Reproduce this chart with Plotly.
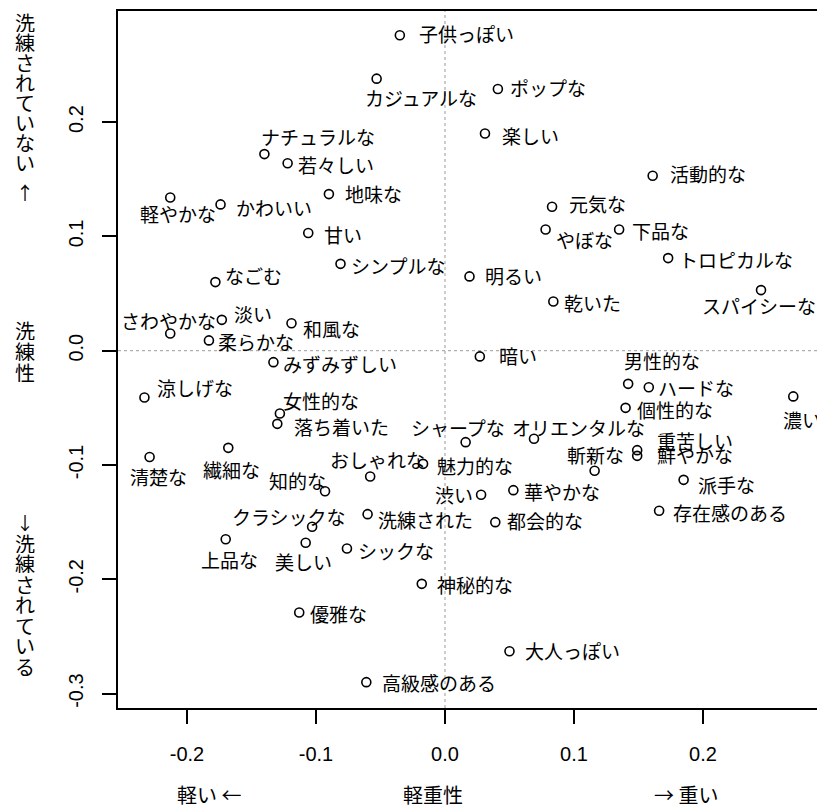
import plotly.graph_objects as go

# ---------------- data ----------------
words = ["子供っぽい", "カジュアルな", "ポップな", "楽しい", "ナチュラルな", "若々しい", "活動的な",
         "地味な", "軽やかな", "かわいい", "元気な", "やぼな", "下品な", "甘い", "トロピカルな",
         "シンプルな", "明るい", "なごむ", "スパイシーな", "乾いた", "淡い", "さわやかな", "和風な",
         "柔らかな", "暗い", "みずみずしい", "男性的な", "ハードな", "個性的な", "濃い", "涼しげな",
         "女性的な", "落ち着いた", "シャープな", "オリエンタルな", "重苦しい", "鮮やかな", "斬新な",
         "清楚な", "繊細な", "魅力的な", "おしゃれな", "知的な", "派手な", "華やかな", "渋い",
         "存在感のある", "洗練された", "都会的な", "クラシックな", "上品な", "美しい", "シックな",
         "神秘的な", "優雅な", "大人っぽい", "高級感のある"]

weight = [-0.035, -0.053, 0.041, 0.031, -0.140, -0.122, 0.161,
          -0.090, -0.213, -0.174, 0.083, 0.078, 0.135, -0.106, 0.173,
          -0.081, 0.019, -0.178, 0.245, 0.084, -0.173, -0.213, -0.119,
          -0.183, 0.027, -0.133, 0.142, 0.158, 0.140, 0.270, -0.233,
          -0.128, -0.130, 0.016, 0.069, 0.149, 0.149, 0.116,
          -0.229, -0.168, -0.017, -0.058, -0.093, 0.185, 0.053, 0.028,
          0.166, -0.060, 0.039, -0.103, -0.170, -0.108, -0.076,
          -0.018, -0.113, 0.050, -0.061]

sophistication = [0.276, 0.238, 0.229, 0.190, 0.172, 0.164, 0.153,
                  0.137, 0.134, 0.128, 0.126, 0.106, 0.106, 0.103, 0.081,
                  0.076, 0.065, 0.060, 0.053, 0.043, 0.027, 0.015, 0.024,
                  0.009, -0.005, -0.010, -0.029, -0.032, -0.050, -0.040, -0.041,
                  -0.055, -0.064, -0.080, -0.077, -0.087, -0.092, -0.105,
                  -0.093, -0.085, -0.099, -0.110, -0.123, -0.113, -0.122, -0.126,
                  -0.140, -0.143, -0.150, -0.154, -0.165, -0.168, -0.173,
                  -0.204, -0.229, -0.263, -0.290]

x_ticks = [-0.2, -0.1, 0.0, 0.1, 0.2]
x_tick_text = ["-0.2", "-0.1", "0.0", "0.1", "0.2"]
y_ticks = [-0.3, -0.2, -0.1, 0.0, 0.1, 0.2]
y_tick_text = ["-0.3", "-0.2", "-0.1", "0.0", "0.1", "0.2"]

# ---------------- label placement (pixel offsets: right, down) ----------------
label_dx = [17, -14, 10, 15, -5, 8, 15,
            14, -32, 13, 15, 8, 11, 14, 9,
            8, 13, 8, -61, 9, 10, -51, 10,
            7, 17, 8, -6, 7, 9, -12, 11,
            1, 15, -57, -24, 18, 18, -30,
            -22, -27, 12, -42, -58, 12, 9, -48,
            12, 8, 10, -82, -27, -33, 9,
            13, 9, 14, 14]
label_dy = [-2, 19, -1, 2, -18, 1, -2,
            -1, 16, 3, -3, 10, 1, 2, 1,
            2, -1, -7, 15, 1, -6, -13, 5,
            1, -1, 1, -23, 0, 2, 23, -10,
            -13, 3, -15, -11, -10, -1, -16,
            19, 22, 2, -17, -11, 5, 1, 0,
            2, 5, -2, -10, 20, 19, 2,
            1, 1, -1, 0]

W, H = 817, 808
L, R, T, B = 118, 0, 11, 100
PW, PH = W - L - R, H - T - B
XR = [-0.2535, 0.2884]
YR = [-0.3126, 0.2972]

JP = "Noto Sans CJK JP"
NUM = "Liberation Sans"


def px_x(px):
    return (px - L) / PW


def px_y(py):
    return (T + PH - py) / PH


fig = go.Figure()
fig.add_trace(go.Scatter(
    x=weight, y=sophistication, mode="markers",
    marker=dict(symbol="circle-open", size=9, color="black", line=dict(width=1.6, color="black")),
    hoverinfo="text", text=words, showlegend=False,
))

annotations = []
for w, xv, yv, dx, dy in zip(words, weight, sophistication, label_dx, label_dy):
    annotations.append(dict(
        x=xv, y=yv, xref="x", yref="y", text=w, showarrow=False,
        xanchor="left", yanchor="middle", xshift=dx, yshift=-dy,
        font=dict(family=JP, size=19, color="black"),
    ))

# x-axis titles
for txt, cx in [("軽い ←", 209), ("軽重性", 433), ("→ 重い", 686)]:
    annotations.append(dict(
        x=px_x(cx), y=px_y(794), xref="paper", yref="paper", text=txt, showarrow=False,
        xanchor="center", yanchor="middle", height=22,
        font=dict(family=JP, size=20, color="black"),
    ))


# y-axis titles (vertical, stacked characters)
def stacked(text, top_center, pitch=20.5):
    for i, ch in enumerate(text):
        annotations.append(dict(
            x=px_x(25), y=px_y(top_center + i * pitch), xref="paper", yref="paper",
            text=ch, showarrow=False, xanchor="center", yanchor="middle", height=19,
            font=dict(family=JP, size=20, color="black"),
        ))


stacked("洗練されていない", 23, 20.0)
annotations.append(dict(x=px_x(25), y=px_y(192), xref="paper", yref="paper", text="↑",
                        showarrow=False, xanchor="center", yanchor="middle", height=19,
                        font=dict(family=JP, size=18, color="black")))
stacked("洗練性", 330.5, 21)
annotations.append(dict(x=px_x(25), y=px_y(521), xref="paper", yref="paper", text="↓",
                        showarrow=False, xanchor="center", yanchor="middle", height=19,
                        font=dict(family=JP, size=18, color="black")))
stacked("洗練されている", 543, 20.5)

shapes = [
    dict(type="line", xref="x", yref="paper", x0=0, x1=0, y0=0, y1=1,
         line=dict(color="#9a9a9a", width=1, dash="dot"), layer="below"),
    dict(type="line", xref="paper", yref="y", x0=0, x1=1, y0=0, y1=0,
         line=dict(color="#9a9a9a", width=1, dash="dot"), layer="below"),
]

fig.update_layout(
    width=W, height=H, autosize=False,
    margin=dict(l=L, r=R, t=T, b=B, pad=0),
    paper_bgcolor="white", plot_bgcolor="white",
    annotations=annotations, shapes=shapes,
    xaxis=dict(range=XR, tickvals=x_ticks, ticktext=x_tick_text, showgrid=False, zeroline=False,
               showline=True, linecolor="black", linewidth=2, mirror=True,
               ticks="outside", ticklen=14, tickwidth=1.5, tickcolor="black",
               tickfont=dict(family=NUM, size=20, color="black"), ticklabelstandoff=13),
    yaxis=dict(range=YR, tickvals=y_ticks, ticktext=y_tick_text, showgrid=False, zeroline=False,
               showline=True, linecolor="black", linewidth=2, mirror=False,
               ticks="outside", ticklen=14, tickwidth=1.5, tickcolor="black", tickangle=-90,
               tickfont=dict(family=NUM, size=20, color="black"), ticklabelstandoff=11),
)

fig.write_html(
    "out.html",
    config={"displayModeBar": False},
    post_script="document.body.style.margin='0px'; document.body.style.overflow='hidden';",
)
